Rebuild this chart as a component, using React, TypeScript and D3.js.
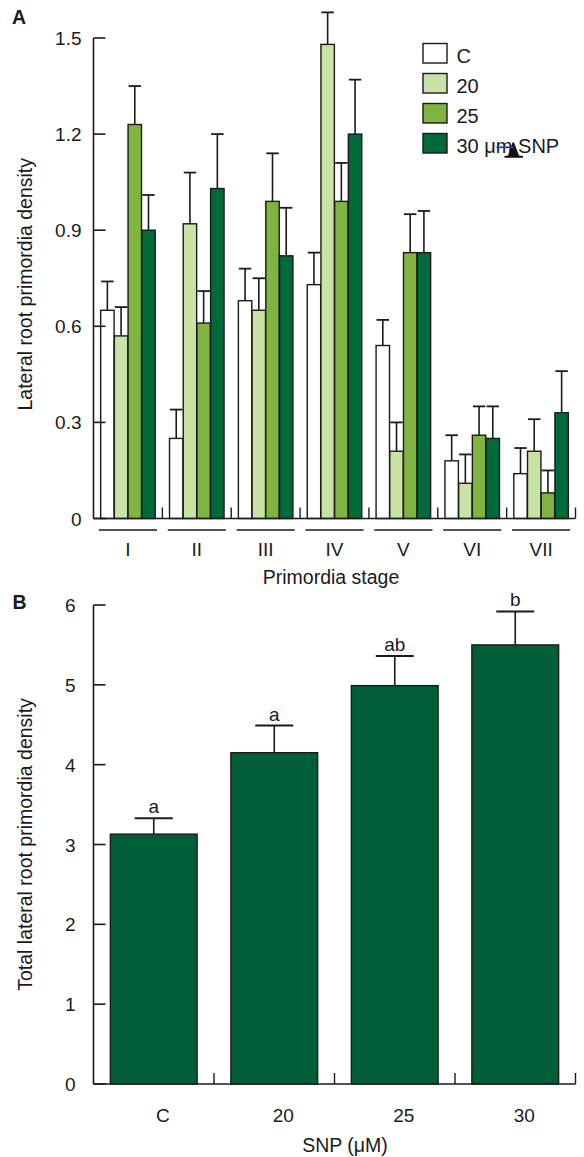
import React, { useEffect } from "react";
import * as d3 from "d3";

// ---------- Data ----------
const stages = ["I", "II", "III", "IV", "V", "VI", "VII"];
const treatments = ["C", "20", "25", "30"];
const legendLabels = ["C", "20", "25", "30 \u03bcm SNP"];
const meanC = [0.65, 0.25, 0.68, 0.73, 0.54, 0.18, 0.14];
const mean20 = [0.57, 0.92, 0.65, 1.48, 0.21, 0.11, 0.21];
const mean25 = [1.23, 0.61, 0.99, 0.99, 0.83, 0.26, 0.08];
const mean30 = [0.9, 1.03, 0.82, 1.2, 0.83, 0.25, 0.33];
const errC = [0.09, 0.09, 0.1, 0.1, 0.08, 0.08, 0.08];
const err20 = [0.09, 0.16, 0.1, 0.1, 0.09, 0.09, 0.1];
const err25 = [0.12, 0.1, 0.15, 0.12, 0.12, 0.09, 0.07];
const err30 = [0.11, 0.17, 0.15, 0.17, 0.13, 0.1, 0.13];
const yTicksA = [0, 0.3, 0.6, 0.9, 1.2, 1.5];

const snpLevels = ["C", "20", "25", "30"];
const totalMean = [3.13, 4.15, 4.99, 5.5];
const totalErr = [0.2, 0.34, 0.37, 0.42];
const sigLetters = ["a", "a", "ab", "b"];
const yTicksB = [0, 1, 2, 3, 4, 5, 6];

const meansA = [meanC, mean20, mean25, mean30];
const errsA = [errC, err20, err25, err30];
const fillsA = ["#ffffff", "#c9e3a6", "#7fb441", "#006a3b"];
const fillB = "#005f38";

const FONT = "'Liberation Sans', Arial, Helvetica, sans-serif";
const INK = "#1a1a1a";

export default function App() {
  useEffect(() => {
    document.body.style.margin = "0";
  }, []);

  // ---------- Panel A scales ----------
  const ax0 = 93.5, ax1 = 575.5;
  const yA = d3.scaleLinear().domain([0, 1.5]).range([518.5, 38]);
  const gA = d3.scaleBand<string>().domain(stages).range([ax0, ax1]).paddingInner(0.2).paddingOuter(0.1);
  const gAfull = d3.scaleBand<string>().domain(stages).range([ax0, ax1]).padding(0);
  const xA = d3.scaleBand<string>().domain(treatments).range([0, gA.bandwidth()]).padding(0.02);

  // ---------- Panel B scales ----------
  const bx0 = 93.5, bx1 = 575.5;
  const yB = d3.scaleLinear().domain([0, 6]).range([1084, 605]);
  const xB = d3.scaleBand<string>().domain(snpLevels).range([bx0, bx1]).paddingInner(0.28).paddingOuter(0.14);
  const xBfull = d3.scaleBand<string>().domain(snpLevels).range([bx0, bx1]).padding(0);

  return (
    <svg width={584} height={1157} style={{ display: "block", background: "#fff" }} fontFamily={FONT}>
      {/* ===== Panel A ===== */}
      <text x={12} y={24} fontSize={19.5} fontWeight="bold" fill={INK}>A</text>
      <text
        transform={`translate(31.5,${(yA(0) + yA(1.5)) / 2 + 6}) rotate(-90)`}
        textAnchor="middle"
        fontSize={19.5}
        fill={INK}
      >
        Lateral root primordia density
      </text>

      {/* bars */}
      {stages.map((s, i) => (
        <g key={s} transform={`translate(${gA(s)},0)`}>
          {treatments.map((t, k) => {
            const v = meansA[k][i];
            const e = errsA[k][i];
            const x = xA(t)!;
            const w = xA.bandwidth();
            const cx = x + w / 2;
            return (
              <g key={t}>
                <line x1={cx} x2={cx} y1={yA(v)} y2={yA(v + e)} stroke={INK} strokeWidth={1.6} />
                <line x1={cx - w / 2 + 0.5} x2={cx + w / 2 - 0.5} y1={yA(v + e)} y2={yA(v + e)} stroke={INK} strokeWidth={1.8} />
                <rect x={x} y={yA(v)} width={w} height={yA(0) - yA(v)} fill={fillsA[k]} stroke={INK} strokeWidth={1.4} />
              </g>
            );
          })}
        </g>
      ))}

      {/* y axis */}
      <line x1={ax0} x2={ax0} y1={yA(1.5)} y2={yA(0)} stroke={INK} strokeWidth={1.6} />
      {yTicksA.map((t) => (
        <g key={t}>
          <line x1={ax0} x2={ax0 + 12} y1={yA(t)} y2={yA(t)} stroke={INK} strokeWidth={1.6} />
          <text x={81.5} y={yA(t) + 7} textAnchor="end" fontSize={19} fill={INK}>
            {t === 0 ? "0" : d3.format(".1f")(t)}
          </text>
        </g>
      ))}
      {/* x axis baseline and group ticks */}
      <line x1={ax0} x2={ax1} y1={yA(0)} y2={yA(0)} stroke={INK} strokeWidth={1.6} />
      {stages.map((s) => (
        <line key={s} x1={gAfull(s)! + gAfull.bandwidth()} x2={gAfull(s)! + gAfull.bandwidth()} y1={yA(0) - 11} y2={yA(0)} stroke={INK} strokeWidth={1.4} />
      ))}
      {stages.map((s) => (
        <g key={s}>
          <line x1={gA(s)! - 1.5} x2={gA(s)! + gA.bandwidth() + 1.5} y1={530} y2={530} stroke={INK} strokeWidth={1.6} />
          <text x={gA(s)! + gA.bandwidth() / 2} y={555.5} textAnchor="middle" fontSize={19} fill={INK}>{s}</text>
        </g>
      ))}
      <text x={331} y={584} textAnchor="middle" fontSize={19.5} fill={INK}>Primordia stage</text>

      {/* legend */}
      {legendLabels.map((l, k) => (
        <g key={l} transform={`translate(423,${43.5 + k * 30})`}>
          <rect x={0} y={0} width={24} height={19.5} fill={fillsA[k]} stroke={INK} strokeWidth={1.4} />
          <text x={33.5} y={19} fontSize={20} fill={INK}>{l}</text>
        </g>
      ))}
      <path d="M512.5,142.5 L514,142.5 L519,155.5 L523,156 L523,157.8 L504.5,157.8 L504.5,156 L508,155.5 Z" fill="#111" />
      <line x1={496.5} x2={513.5} y1={147.3} y2={147.3} stroke="#2b3fa8" strokeWidth={1.8} />

      {/* ===== Panel B ===== */}
      <text x={12.5} y={609} fontSize={19.5} fontWeight="bold" fill={INK}>B</text>
      <text
        transform={`translate(31.5,${(yB(0) + yB(6)) / 2}) rotate(-90)`}
        textAnchor="middle"
        fontSize={19.5}
        fill={INK}
      >
        Total lateral root primordia density
      </text>

      {snpLevels.map((c, i) => {
        const x = xB(c)!;
        const w = xB.bandwidth();
        const cx = x + w / 2;
        const top = yB(totalMean[i] + totalErr[i]);
        return (
          <g key={c}>
            <line x1={cx} x2={cx} y1={yB(totalMean[i])} y2={top} stroke={INK} strokeWidth={1.6} />
            <line x1={cx - 19} x2={cx + 19} y1={top} y2={top} stroke={INK} strokeWidth={2} />
            <rect x={x} y={yB(totalMean[i])} width={w} height={yB(0) - yB(totalMean[i])} fill={fillB} stroke={INK} strokeWidth={1.4} />
            <text x={cx} y={top - 5} textAnchor="middle" fontSize={19} fill={INK}>{sigLetters[i]}</text>
            <text x={cx + 9} y={1121.5} textAnchor="middle" fontSize={19} fill={INK}>{c}</text>
          </g>
        );
      })}

      <line x1={bx0} x2={bx0} y1={yB(6)} y2={yB(0)} stroke={INK} strokeWidth={1.6} />
      {yTicksB.map((t) => (
        <g key={t}>
          <line x1={bx0} x2={bx0 + 12} y1={yB(t)} y2={yB(t)} stroke={INK} strokeWidth={1.6} />
          <text x={75.5} y={yB(t) + 7} textAnchor="end" fontSize={19} fill={INK}>{t}</text>
        </g>
      ))}
      <line x1={bx0} x2={bx1} y1={yB(0)} y2={yB(0)} stroke={INK} strokeWidth={1.6} />
      {snpLevels.map((c) => (
        <line key={c} x1={xBfull(c)! + xBfull.bandwidth()} x2={xBfull(c)! + xBfull.bandwidth()} y1={yB(0) - 11} y2={yB(0)} stroke={INK} strokeWidth={1.4} />
      ))}
      <text x={345} y={1152} textAnchor="middle" fontSize={19.5} fill={INK}>{"SNP (\u03bcM)"}</text>
    </svg>
  );
}
